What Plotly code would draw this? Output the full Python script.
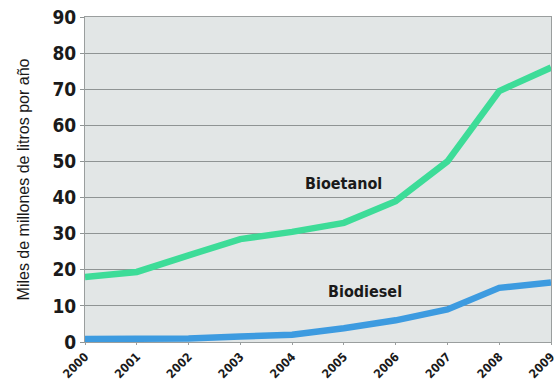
import plotly.graph_objects as go

years = [2000, 2001, 2002, 2003, 2004, 2005, 2006, 2007, 2008, 2009]
bioetanol = [18, 19.4, 24, 28.5, 30.5, 33, 39, 50, 69.5, 76]
biodiesel = [0.8, 0.8, 1.0, 1.5, 2.0, 3.8, 6.0, 9.0, 15.0, 16.5]
y_ticks = [0, 10, 20, 30, 40, 50, 60, 70, 80, 90]

FONT = "DejaVu Sans Condensed, Liberation Sans Narrow, Arial, sans-serif"

fig = go.Figure()
fig.add_trace(go.Scatter(x=years, y=bioetanol, mode="lines", name="Bioetanol",
                         line=dict(color="#3ddc98", width=6.5), cliponaxis=False))
fig.add_trace(go.Scatter(x=years, y=biodiesel, mode="lines", name="Biodiesel",
                         line=dict(color="#3d9be0", width=6.5), cliponaxis=False))

fig.add_annotation(x=2005.0, y=44, text="<b>Bioetanol</b>", showarrow=False,
                   font=dict(family=FONT, size=16, color="#1a1a1a"))
fig.add_annotation(x=2005.4, y=14, text="<b>Biodiesel</b>", showarrow=False,
                   font=dict(family=FONT, size=16, color="#1a1a1a"))

fig.update_layout(
    width=556, height=383,
    margin=dict(l=85, r=5, t=17, b=41, autoexpand=False),
    paper_bgcolor="white",
    plot_bgcolor="#e2e6e6",
    showlegend=False,
    font=dict(family=FONT, color="#1a1a1a"),
)
fig.update_xaxes(
    range=[2000, 2009], tickvals=years, ticktext=[str(y) for y in years],
    tickangle=-45, tickfont=dict(size=12, family=FONT, weight="bold"),
    ticklabeloverflow="allow", automargin=False,
    showgrid=False, showline=True, linecolor="#9a9e9e", linewidth=1,
    ticks="outside", ticklen=2, tickcolor="#9a9e9e", mirror=True,
    zeroline=False,
)
fig.update_yaxes(
    range=[0, 90], tickvals=y_ticks, automargin=False,
    tickfont=dict(size=19, family=FONT, weight="bold"),
    showgrid=True, gridcolor="#8f9494", gridwidth=1,
    showline=True, linecolor="#9a9e9e", linewidth=1, mirror=True,
    ticks="outside", ticklen=4, tickcolor="#8f9494",
    zeroline=False,
    title=dict(text="Miles de millones de litros por año",
               font=dict(size=16, family="Liberation Sans, Arial, sans-serif"), standoff=18),
)

fig.write_html("out.html")
